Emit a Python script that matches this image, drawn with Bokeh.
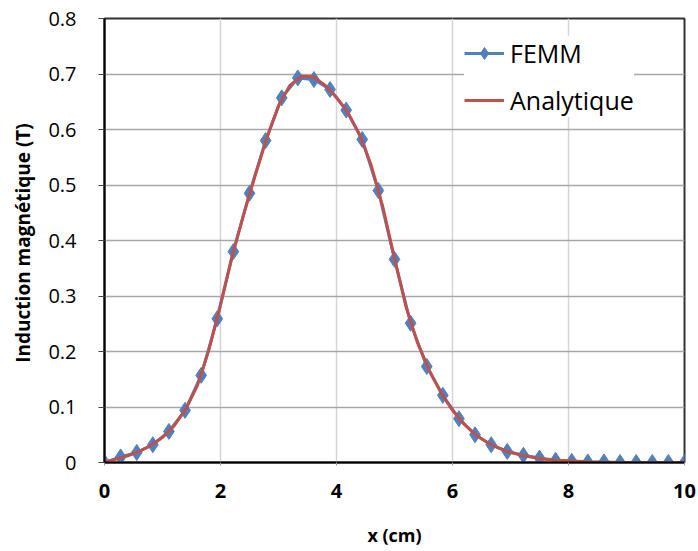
from bokeh.plotting import figure
from bokeh.embed import file_html
from bokeh.resources import INLINE
from bokeh.models import Range1d, FixedTicker, Legend, LegendItem

# FEMM points (x in cm, B in T)
femm_x = [0.0, 0.278, 0.556, 0.833, 1.111, 1.389, 1.667, 1.944, 2.222, 2.5,
          2.778, 3.056, 3.333, 3.611, 3.889, 4.167, 4.444, 4.722, 5.0, 5.278,
          5.556, 5.833, 6.111, 6.389, 6.667, 6.944, 7.222, 7.5, 7.778, 8.056,
          8.333, 8.611, 8.889, 9.167, 9.444, 9.722, 10.0]
femm_b = [0.0, 0.010, 0.018, 0.032, 0.056, 0.094, 0.157, 0.259, 0.380, 0.485,
          0.580, 0.657, 0.693, 0.690, 0.672, 0.635, 0.582, 0.490, 0.366, 0.251,
          0.173, 0.121, 0.079, 0.050, 0.032, 0.020, 0.013, 0.008, 0.004, 0.002,
          0.001, 0.001, 0.0, 0.0, 0.0, 0.0, 0.0]

# Analytic curve samples
ana_x = [0.0, 0.2, 0.4, 0.6, 0.8, 1.0, 1.2, 1.4, 1.6, 1.8,
         2.0, 2.2, 2.4, 2.6, 2.8, 3.0, 3.2, 3.4, 3.6, 3.8,
         4.0, 4.2, 4.4, 4.6, 4.8, 5.0, 5.2, 5.4, 5.6, 5.8,
         6.0, 6.2, 6.4, 6.6, 6.8, 7.0, 7.2, 7.4, 7.6, 7.8,
         8.0, 8.4, 8.8, 9.2, 9.6, 10.0]
ana_b = [0.0, 0.006, 0.012, 0.020, 0.031, 0.045, 0.066, 0.096, 0.138, 0.203,
         0.285, 0.372, 0.447, 0.518, 0.585, 0.643, 0.680, 0.696, 0.695, 0.680,
         0.658, 0.630, 0.590, 0.535, 0.460, 0.368, 0.280, 0.215, 0.166, 0.126,
         0.094, 0.069, 0.050, 0.036, 0.026, 0.018, 0.013, 0.009, 0.006, 0.004,
         0.003, 0.001, 0.0, 0.0, 0.0, 0.0]

x_ticks = [0, 2, 4, 6, 8, 10]
y_ticks = [0, 0.1, 0.2, 0.3, 0.4, 0.5, 0.6, 0.7, 0.8]
y_tick_labels = {0: "0", 0.1: "0.1", 0.2: "0.2", 0.3: "0.3", 0.4: "0.4",
                 0.5: "0.5", 0.6: "0.6", 0.7: "0.7", 0.8: "0.8"}

FONT = "Open Sans"

p = figure(width=698, height=551, output_backend="svg", toolbar_location=None,
           x_range=Range1d(0, 10), y_range=Range1d(0, 0.8),
           min_border_left=104, min_border_right=14, min_border_top=18,
           min_border_bottom=89)

p.outline_line_color = "#333333"
p.outline_line_width = 2

p.xgrid.ticker = FixedTicker(ticks=x_ticks)
p.ygrid.ticker = FixedTicker(ticks=y_ticks)
p.xgrid.grid_line_color = "#D4D4D4"
p.ygrid.grid_line_color = "#A8A8A8"
p.xgrid.grid_line_width = 1.5
p.ygrid.grid_line_width = 1.5

p.xaxis.ticker = FixedTicker(ticks=x_ticks)
p.yaxis.ticker = FixedTicker(ticks=y_ticks)
p.yaxis.major_label_overrides = y_tick_labels

for ax in (p.xaxis, p.yaxis):
    ax.axis_line_color = "black"
    ax.axis_line_width = 2
    ax.minor_tick_line_color = None
    ax.major_label_text_font = FONT
    ax.major_label_text_color = "black"
    ax.axis_label_text_font = FONT
    ax.axis_label_text_font_style = "bold"
    ax.axis_label_text_color = "black"

p.yaxis.major_tick_line_color = "#444444"
p.yaxis.major_tick_in = 0
p.yaxis.major_tick_out = 6
p.yaxis.major_label_text_font_size = "20px"
p.yaxis.major_label_standoff = 22
p.yaxis.axis_label = "Induction magnétique  (T)"
p.yaxis.axis_label_text_font_size = "19px"
p.yaxis.axis_label_standoff = 9

p.xaxis.major_tick_line_color = "#999999"
p.xaxis.major_tick_in = 0
p.xaxis.major_tick_out = 3
p.xaxis.major_label_text_font_size = "20px"
p.xaxis.major_label_text_font_style = "bold"
p.xaxis.major_label_standoff = 18
p.xaxis.axis_label = "x (cm)"
p.xaxis.axis_label_text_font_size = "18px"
p.xaxis.axis_label_standoff = 22

BLUE = "#4F81BD"
RED = "#C0504D"

femm_line = p.line(femm_x, femm_b, line_color=BLUE, line_width=3)
femm_pts = p.scatter(femm_x, femm_b, marker="diamond", size=16,
                     fill_color=BLUE, line_color=BLUE)
ana_line = p.line(ana_x, ana_b, line_color=RED, line_width=3)

legend = Legend(items=[
    LegendItem(label="FEMM", renderers=[femm_line, femm_pts]),
    LegendItem(label="Analytique", renderers=[ana_line]),
], location=(360, 345))
legend.label_text_font = FONT
legend.label_text_font_size = "25px"
legend.label_text_color = "black"
legend.glyph_width = 40
legend.glyph_height = 30
legend.label_height = 30
legend.spacing = 13
legend.padding = 10
legend.margin = 0
legend.label_standoff = 6
legend.border_line_color = None
legend.background_fill_color = "white"
legend.background_fill_alpha = 1.0
p.add_layout(legend)

open("out.html", "w").write(file_html(p, INLINE))
